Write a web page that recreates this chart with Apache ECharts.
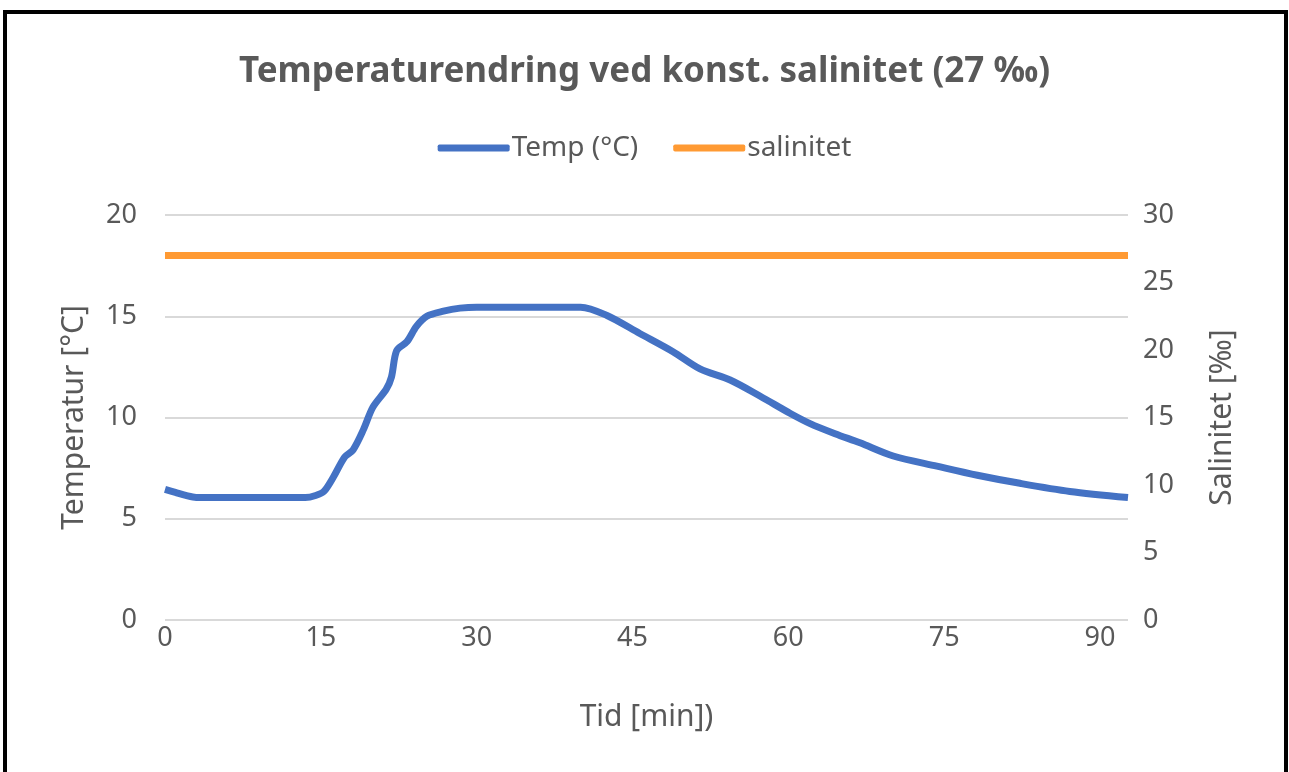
<!DOCTYPE html>
<html>
<head>
<meta charset="utf-8">
<script src="https://cdn.jsdelivr.net/npm/echarts@6/dist/echarts.min.js"></script>
<style>
html,body{margin:0;padding:0;background:#fff;}
#frame{position:absolute;left:3px;top:10px;width:1285px;height:790px;border:4px solid #000;box-sizing:border-box;}
#chart{position:absolute;left:0;top:0;width:1289px;height:772px;}
</style>
</head>
<body>
<div id="frame"></div>
<div id="chart"></div>
<script>
const timeMin = [0, 1, 2, 3, 5, 8, 11, 13.5, 14.5, 15.3, 16.2, 17.3, 18.1, 19.1, 20.0, 21.3, 21.8, 22.3, 23.3, 24.2, 25.2, 26.8, 28.4, 30, 35, 40, 42.5, 45.7, 48.9, 51.5, 54.4, 57.3, 60.2, 62.1, 64.5, 66.9, 70.1, 74.3, 78.2, 82.3, 87.1, 92.7];
const tempC = [6.45, 6.3, 6.15, 6.05, 6.05, 6.05, 6.05, 6.05, 6.15, 6.35, 7.05, 8.05, 8.4, 9.4, 10.5, 11.4, 12.0, 13.3, 13.75, 14.5, 15.0, 15.25, 15.4, 15.45, 15.45, 15.45, 15.05, 14.15, 13.25, 12.4, 11.85, 11.05, 10.2, 9.7, 9.2, 8.75, 8.1, 7.6, 7.15, 6.75, 6.35, 6.05];
const salTime = [0, 92.7];
const salinity = [27, 27];
const xTicks = [0, 15, 30, 45, 60, 75, 90];

const txt = '#595959';
const font = 'Noto Sans';
const chart = echarts.init(document.getElementById('chart'));
chart.setOption({
  animation: false,
  title: {
    text: 'Temperaturendring ved konst. salinitet (27 ‰)',
    left: 'center', top: 50,
    textStyle: {color: txt, fontFamily: font, fontSize: 35, fontWeight: 'bold'}
  },
  legend: {
    top: 129, left: 'center',
    icon: 'roundRect', itemWidth: 72, itemHeight: 7, itemGap: 35,
    textStyle: {color: txt, fontFamily: font, fontSize: 28, padding: [0, 0, 0, -3]},
    data: ['Temp (°C)', 'salinitet']
  },
  grid: {left: 165, right: 161, top: 215, bottom: 152},
  xAxis: {
    type: 'value', min: 0, max: 92.7, interval: 15,
    name: 'Tid [min])', nameLocation: 'middle', nameGap: 82,
    nameTextStyle: {color: txt, fontFamily: font, fontSize: 30},
    axisLine: {show: false}, axisTick: {show: false}, splitLine: {show: false},
    axisLabel: {color: txt, fontFamily: font, fontSize: 27, margin: 5,
      showMaxLabel: false,
      formatter: v => xTicks.includes(v) ? String(v) : ''}
  },
  yAxis: [
    {
      type: 'value', min: 0, max: 20, interval: 5,
      name: 'Temperatur [°C]', nameLocation: 'middle', nameGap: 76,
      nameTextStyle: {color: txt, fontFamily: font, fontSize: 30},
      axisLine: {show: false}, axisTick: {show: false},
      splitLine: {lineStyle: {color: '#d9d9d9', width: 2}},
      axisLabel: {color: txt, fontFamily: font, fontSize: 27, margin: 28}
    },
    {
      type: 'value', min: 0, max: 30, interval: 5,
      name: 'Salinitet [‰]', nameLocation: 'middle', nameGap: 79,
      nameTextStyle: {color: txt, fontFamily: font, fontSize: 30},
      axisLine: {show: false}, axisTick: {show: false}, splitLine: {show: false},
      axisLabel: {color: txt, fontFamily: font, fontSize: 27, margin: 15}
    }
  ],
  series: [
    {
      name: 'Temp (°C)', type: 'line', yAxisIndex: 0,
      data: timeMin.map((t, i) => [t, tempC[i]]),
      smooth: 0.3, showSymbol: false, symbol: 'none',
      lineStyle: {color: '#4472C4', width: 7}, itemStyle: {color: '#4472C4'}
    },
    {
      name: 'salinitet', type: 'line', yAxisIndex: 1,
      data: salTime.map((t, i) => [t, salinity[i]]),
      showSymbol: false, symbol: 'none',
      lineStyle: {color: '#FF9A33', width: 7}, itemStyle: {color: '#FF9A33'}
    }
  ]
});
</script>
</body>
</html>
